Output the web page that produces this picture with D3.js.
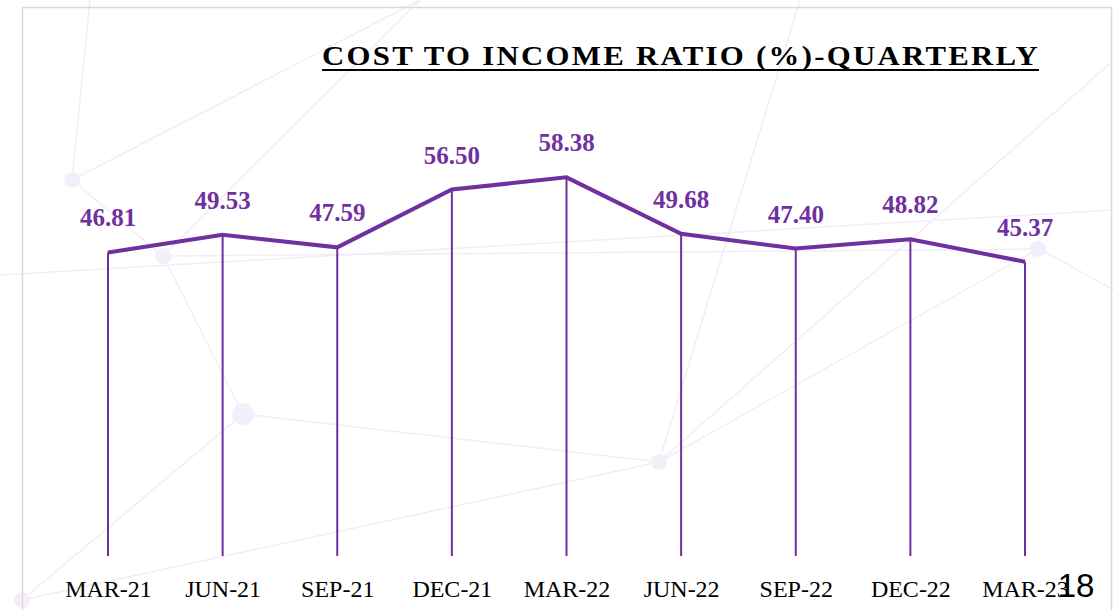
<!DOCTYPE html>
<html>
<head>
<meta charset="utf-8">
<script src="https://cdn.jsdelivr.net/npm/d3@7"></script>
<style>
  html, body { margin: 0; padding: 0; background: #ffffff; }
  svg { display: block; }
</style>
</head>
<body>
<svg id="chart" width="1114" height="610"></svg>
<script>
const categories = ["MAR-21", "JUN-21", "SEP-21", "DEC-21", "MAR-22", "JUN-22", "SEP-22", "DEC-22", "MAR-23"];
const ratioValues = [46.81, 49.53, 47.59, 56.50, 58.38, 49.68, 47.40, 48.82, 45.37];
const valueLabels = ["46.81", "49.53", "47.59", "56.50", "58.38", "49.68", "47.40", "48.82", "45.37"];
const titleText = "COST TO INCOME RATIO (%)-QUARTERLY";
const pageNumber = "18";

const W = 1114, H = 610;
const svg = d3.select("#chart");
const purple = "#7030a0";
const serif = "'Palatino Linotype', 'Book Antiqua', Palatino, 'Liberation Serif', 'DejaVu Serif', serif";

// faint decorative background network
const deco = svg.append("g").attr("stroke", "#f2ecf9").attr("stroke-width", 1.5).attr("fill", "none");
const nodes = [[72, 180], [163, 256], [243, 414], [659, 462], [1038, 249], [22, 600], [420, 0], [800, 0]];
const links = [[0,1],[1,2],[2,3],[1,4],[3,4],[0,6],[2,5],[3,7],[1,6],[3,5]];
links.forEach(([a, b]) => deco.append("line")
  .attr("x1", nodes[a][0]).attr("y1", nodes[a][1]).attr("x2", nodes[b][0]).attr("y2", nodes[b][1]));
deco.append("line").attr("x1", 0).attr("y1", 275).attr("x2", 1114).attr("y2", 210);
deco.append("line").attr("x1", 90).attr("y1", 0).attr("x2", 72).attr("y2", 180);
deco.append("line").attr("x1", 659).attr("y1", 462).attr("x2", 1114).attr("y2", 60);
deco.append("line").attr("x1", 1040).attr("y1", 249).attr("x2", 1114).attr("y2", 290);
svg.append("g").attr("fill", "#f4eefa").selectAll("circle").data(nodes.slice(0, 6)).join("circle")
  .attr("cx", d => d[0]).attr("cy", d => d[1]).attr("r", (d, i) => i === 2 ? 11 : 8);

// frame
svg.append("rect").attr("x", 22.5).attr("y", 7.5).attr("width", 1089).attr("height", 640)
  .attr("fill", "none").attr("stroke", "#d9d9d9").attr("stroke-width", 1.5);

// scales
const x = d3.scalePoint().domain(categories).range([108, 1025]);
const y = d3.scaleLinear().domain([0, 70]).range([556, 102]);

// drop lines
svg.append("g").selectAll("line").data(ratioValues).join("line")
  .attr("x1", (d, i) => x(categories[i])).attr("x2", (d, i) => x(categories[i]))
  .attr("y1", d => y(d)).attr("y2", y(0))
  .attr("stroke", purple).attr("stroke-width", 2);

// main line
const line = d3.line().x((d, i) => x(categories[i])).y(d => y(d));
svg.append("path").datum(ratioValues).attr("d", line)
  .attr("fill", "none").attr("stroke", purple).attr("stroke-width", 4).attr("stroke-linejoin", "miter");

// value labels
svg.append("g").selectAll("text").data(ratioValues).join("text")
  .attr("x", (d, i) => x(categories[i])).attr("y", d => y(d) - 26)
  .attr("text-anchor", "middle").attr("font-family", serif).attr("font-weight", "bold")
  .attr("font-size", 25).attr("fill", purple)
  .text((d, i) => valueLabels[i]);

// x-axis labels
const xAxis = d3.axisBottom(x).tickSize(0).tickPadding(0);
const ax = svg.append("g").attr("transform", `translate(0, 597)`).call(xAxis);
ax.select(".domain").remove();
ax.selectAll("text").attr("dy", 0).attr("y", 0).attr("font-family", serif)
  .attr("font-size", 24).attr("fill", "#000");

// title (stretched horizontally to the reference width)
const titleG = svg.append("g");
const title = titleG.append("text").attr("x", 0).attr("y", 0)
  .attr("font-family", serif).attr("font-weight", "bold").attr("font-size", 27)
  .attr("letter-spacing", 2).attr("fill", "#000")
  .text(titleText);
const natural = title.node().getComputedTextLength() - 2;
const sx = 716 / natural;
titleG.attr("transform", `translate(322,65) scale(${sx},1)`);
svg.append("line").attr("x1", 322).attr("x2", 1039).attr("y1", 70).attr("y2", 70)
  .attr("stroke", "#000").attr("stroke-width", 2);

// page number
svg.append("text").attr("x", 1076).attr("y", 597).attr("text-anchor", "middle")
  .attr("font-family", "'Liberation Sans', Arial, sans-serif").attr("font-size", 33)
  .attr("fill", "#000").text(pageNumber);
</script>
</body>
</html>
